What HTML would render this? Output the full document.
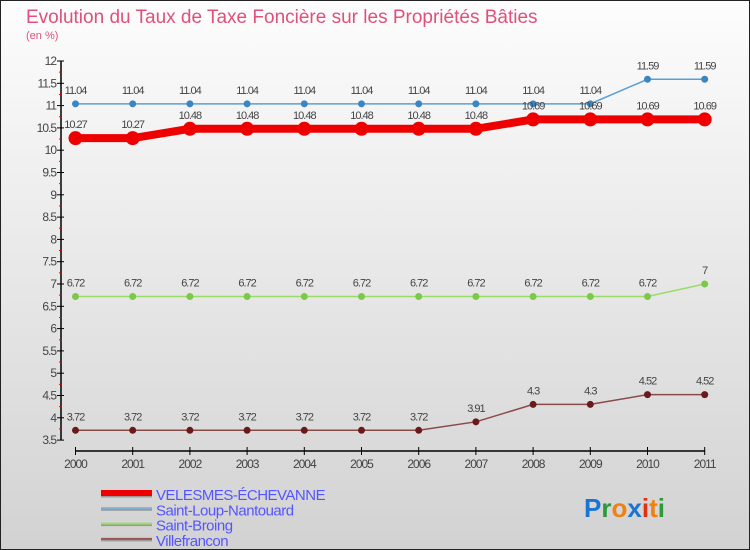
<!DOCTYPE html>
<html><head><meta charset="utf-8"><style>
body{margin:0;}
#wrap{position:relative;width:748px;height:548px;border:1px solid #222;background:linear-gradient(#fdfdfd,#d2d2d2);font-family:"Liberation Sans",sans-serif;overflow:hidden}
</style></head><body>
<div id="wrap">
<svg id="svg" width="748" height="548" xmlns="http://www.w3.org/2000/svg" font-family="Liberation Sans, sans-serif">
<text x="25" y="22" font-size="19" fill="#e0507a">Evolution du Taux de Taxe Foncière sur les Propriétés Bâties</text>
<text x="25" y="38" font-size="11" fill="#e0507a">(en %)</text>
<g id="axes"></g><g id="series"></g><g id="legend"></g>
<text x="583" y="516" font-size="26" font-weight="bold"><tspan fill="#1b74d0">P</tspan><tspan fill="#2a9a3a">r</tspan><tspan fill="#f08010">o</tspan><tspan fill="#1b74d0">x</tspan><tspan fill="#e03010">i</tspan><tspan fill="#f08010">t</tspan><tspan fill="#2a9a3a">i</tspan></text>
</svg>
</div>
<script>
const years=[2000,2001,2002,2003,2004,2005,2006,2007,2008,2009,2010,2011];
const velesmes=[10.27,10.27,10.48,10.48,10.48,10.48,10.48,10.48,10.69,10.69,10.69,10.69];
const saintLoup=[11.04,11.04,11.04,11.04,11.04,11.04,11.04,11.04,11.04,11.04,11.59,11.59];
const saintBroing=[6.72,6.72,6.72,6.72,6.72,6.72,6.72,6.72,6.72,6.72,6.72,7];
const villefrancon=[3.72,3.72,3.72,3.72,3.72,3.72,3.72,3.91,4.3,4.3,4.52,4.52];
const yTicks=[3.5,4,4.5,5,5.5,6,6.5,7,7.5,8,8.5,9,9.5,10,10.5,11,11.5,12];
const seriesNames=["VELESMES-ÉCHEVANNE","Saint-Loup-Nantouard","Saint-Broing","Villefrancon"];
const NS="http://www.w3.org/2000/svg";
const X=i=>74.5+i*57.2;
const Y=v=>60+(12-v)*44.6;
function mk(tag,attrs,parent,txt){const e=document.createElementNS(NS,tag);for(const k in attrs)e.setAttribute(k,attrs[k]);if(txt!==undefined)e.textContent=txt;parent.appendChild(e);return e;}
const ax=document.getElementById('axes');
let yl=mk('line',{x1:60,y1:Y(12),x2:60,y2:Y(3.5),stroke:'#000','stroke-width':1.5},ax);


yTicks.forEach((t,k)=>{
 mk('line',{x1:56,x2:63,y1:Y(t),y2:Y(t),stroke:'#000'},ax);
 if(k>0) mk('line',{x1:58,x2:61,y1:Y(t-0.25),y2:Y(t-0.25),stroke:'#e00'},ax);
 const tx=mk('text',{x:55,y:Y(t)+4,'font-size':12,'text-anchor':'end',fill:'#444','letter-spacing':'-1'},ax,String(t));
 
 
});
let xl=mk('line',{x1:X(0),y1:450,x2:X(11),y2:450,stroke:'#000','stroke-width':1.5},ax);


years.forEach((y,i)=>{
 mk('line',{x1:X(i),x2:X(i),y1:446,y2:454,stroke:'#000'},ax);
 const tx=mk('text',{x:X(i),y:467,'font-size':12,'text-anchor':'middle',fill:'#444','letter-spacing':'-1'},ax,String(y));
 
 
});
const sg=document.getElementById('series');
const defs=[[saintLoup,'#5a9fd4','#3a86c4',1.5,3.5,'saint-loup'],[saintBroing,'#99dd66','#7cc94a',1.5,3.5,'saint-broing'],[villefrancon,'#8b4a4a','#6a1a1a',1.5,3.5,'villefrancon'],[velesmes,'#ee0000','#ee0000',8,7,'velesmes']];
defs.forEach(([d,lc,pc,w,r,nm])=>{
 const g=mk('g',{},sg);
 
 
 mk('polyline',{points:d.map((v,i)=>X(i)+','+Y(v)).join(' '),fill:'none',stroke:lc,'stroke-width':w},g);
 d.forEach((v,i)=>{
  const c=mk('circle',{cx:X(i),cy:Y(v),r:r,fill:pc},g);
  
  
  const t=mk('text',{x:X(i),y:Y(v)-10,'font-size':11,'text-anchor':'middle',fill:'#444','letter-spacing':'-1'},g,String(v));
  
  
 });
});
const lg=document.getElementById('legend');
const lcs=[['#ee0000',6],['#7fb0d0',2],['#99dd66',2],['#995555',2]];
seriesNames.forEach((n,i)=>{
 const y=492+i*15.3;
 const g=mk('g',{},lg);
 
 
 mk('line',{x1:100,x2:151,y1:y+1.5,y2:y+1.5,stroke:'#999','stroke-width':lcs[i][1]},g);
 mk('line',{x1:100,x2:151,y1:y,y2:y,stroke:lcs[i][0],'stroke-width':lcs[i][1]},g);
 mk('text',{x:155,y:y+7,'font-size':15,fill:'#5555ff','letter-spacing':'-0.5'},g,n);
});
</script>
</body></html>
